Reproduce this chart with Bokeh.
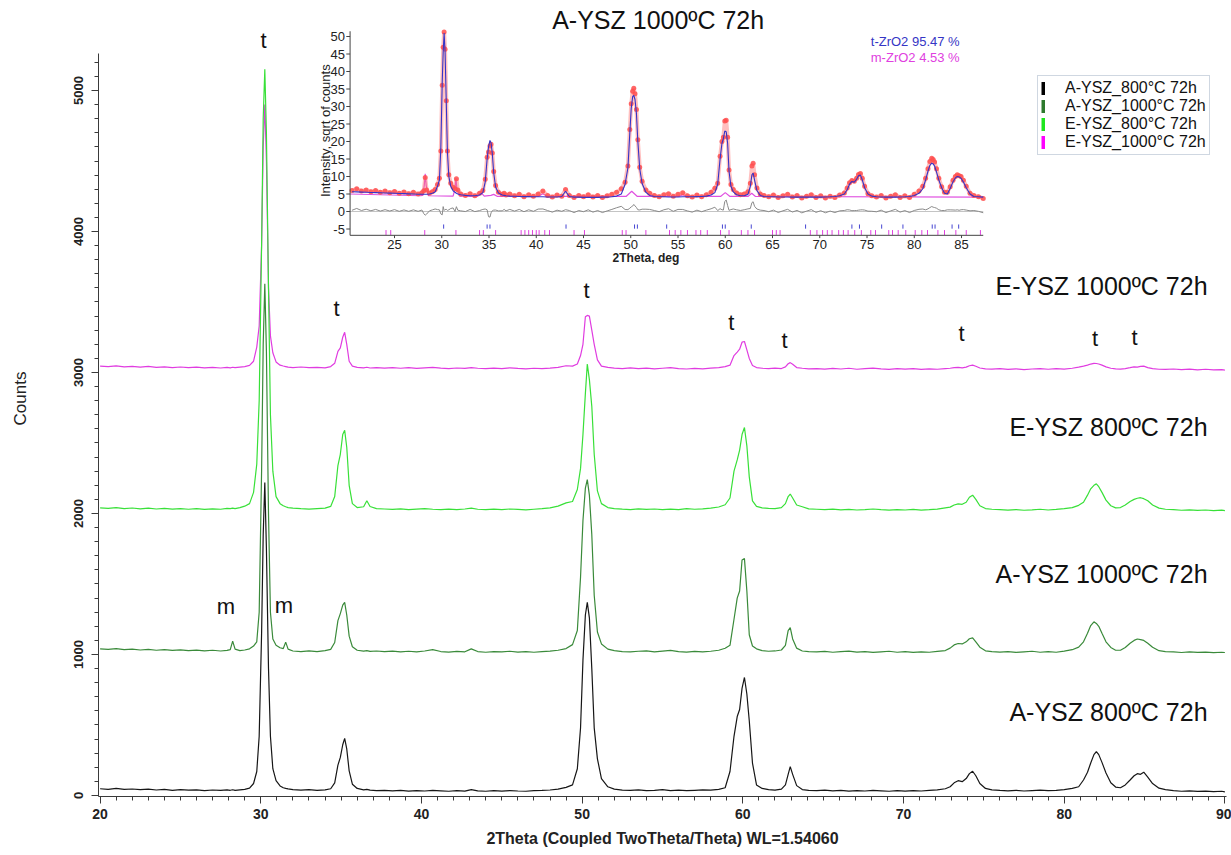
import numpy as np
from bokeh.plotting import figure
from bokeh.models import Range1d, SingleIntervalTicker, FixedTicker, LinearAxis, Legend, LegendItem
from bokeh.core.properties import value
from bokeh.embed import file_html
from bokeh.resources import INLINE

# ---------------- data (2Theta grid shared by the four patterns) ----------------
X = [
    20.0, 20.5, 21.0, 21.5, 22.0, 22.5, 23.0, 23.5, 24.0, 24.5, 25.0, 25.5, 26.0, 26.5, 27.0, 27.5, 27.9,
    28.1, 28.25, 28.4, 28.7, 29.0, 29.3,
    29.55, 29.75, 29.9, 30.05, 30.15, 30.25, 30.35, 30.48, 30.6, 30.75, 30.95, 31.2,
    31.4, 31.55, 31.7, 32.0, 32.5, 33.0, 33.5, 34.0, 34.35,
    34.6, 34.8, 34.95, 35.1, 35.22, 35.35, 35.5, 35.7, 36.0, 36.4, 36.6, 36.8, 37.2,
    37.7, 38.2, 38.7, 39.2, 39.7, 40.2, 40.7, 41.2, 41.7, 42.2, 42.7, 43.1, 43.5, 44.0, 44.5, 45.0, 45.5, 46.0, 46.5, 47.0, 47.5, 48.0, 48.5, 49.0,
    49.4, 49.7, 49.9, 50.05, 50.2, 50.32, 50.45, 50.6, 50.75, 50.95, 51.2, 51.6, 52.0,
    52.5, 53.0, 53.5, 54.0, 54.5, 55.0, 55.5, 56.0, 56.5, 57.0, 57.5, 58.0, 58.5, 58.9,
    59.2, 59.45, 59.65, 59.8, 59.95, 60.1, 60.25, 60.4, 60.6, 60.85, 61.2, 61.6, 62.0, 62.4,
    62.65, 62.82, 62.95, 63.1, 63.35, 63.7, 64.1,
    64.6, 65.1, 65.6, 66.1, 66.6, 67.1, 67.6, 68.1, 68.6, 69.1, 69.6, 70.1, 70.6, 71.1, 71.6, 72.1, 72.6,
    72.9, 73.15, 73.4, 73.65, 73.9, 74.1, 74.3, 74.5, 74.75, 75.1, 75.5,
    76.0, 76.5, 77.0, 77.5, 78.0, 78.5, 79.0, 79.5, 80.0, 80.5, 80.9,
    81.2, 81.45, 81.65, 81.85, 82.0, 82.15, 82.35, 82.6, 82.9, 83.2,
    83.5, 83.8, 84.1, 84.35, 84.55, 84.75, 84.95, 85.2, 85.5, 85.9, 86.3,
    86.8, 87.3, 87.8, 88.3, 88.8, 89.3, 89.8, 90.0,
]

A800 = [
    48, 44, 50, 43, 46, 41, 45, 39, 43, 37, 41, 38, 40, 35, 39, 36, 40,
    37, 41, 36, 40, 44, 52,
    85, 170, 420, 1150, 1850, 2220, 1750, 900, 420, 190, 105, 68,
    55, 50, 47, 42, 38, 41, 37, 40, 48,
    90, 215, 270, 360, 405, 330, 175, 80, 50, 40, 44, 38, 35,
    37, 33, 36, 31, 35, 32, 36, 33, 30, 34, 31, 42, 33, 30, 34, 31, 35, 32, 30, 34, 36, 39, 45, 58,
    75, 190, 480, 960, 1280, 1370, 1260, 900, 480, 260, 120, 62, 45,
    38, 36, 40, 34, 37, 41, 35, 38, 34, 37, 40, 38, 44, 55,
    170, 420, 560, 610, 760, 837, 720, 530, 230, 75, 50, 42, 38, 45,
    75, 150, 205, 150, 70, 42, 36,
    34, 38, 33, 36, 31, 35, 32, 36, 33, 30, 34, 31, 35, 32, 36, 40, 48,
    62, 90, 105, 98, 120, 155, 172, 140, 85, 50, 40,
    36, 33, 37, 32, 35, 38, 34, 37, 42, 50, 62,
    110, 165, 230, 290, 312, 290, 235, 160, 90, 60,
    55, 75, 110, 140, 155, 150, 165, 130, 85, 52, 42,
    35, 30, 33, 29, 31, 27, 30, 26,
]

A1000 = [
    1040, 1036, 1042, 1034, 1038, 1032, 1036, 1030, 1034, 1029, 1033, 1027, 1031, 1026, 1030, 1025, 1029,
    1035, 1095, 1038, 1027, 1032, 1040,
    1060, 1090, 1300, 2300, 3200, 3630, 3150, 2000, 1300, 1110, 1065, 1048,
    1042, 1088, 1038, 1025, 1021, 1026, 1020, 1027, 1036,
    1085, 1240, 1290, 1350, 1370, 1280, 1130, 1055, 1030, 1024, 1027, 1022, 1025,
    1020, 1024, 1018, 1023, 1019, 1025, 1034, 1021, 1017, 1022, 1019, 1040, 1021, 1016, 1021, 1018, 1023, 1017, 1021, 1016, 1020, 1024, 1030, 1042,
    1070, 1170, 1550, 1950, 2180, 2240, 2130, 1850, 1420, 1160, 1075, 1038, 1027,
    1021, 1018, 1023, 1026, 1019, 1024, 1029, 1020, 1017, 1022, 1018, 1023, 1030, 1044,
    1065, 1250, 1400, 1450, 1670, 1680, 1450, 1140, 1060, 1040, 1028, 1023, 1025, 1032,
    1065, 1170, 1190, 1110, 1045, 1025, 1021,
    1018, 1022, 1016, 1020, 1024, 1017, 1021, 1015, 1019, 1023, 1016, 1020, 1015, 1019, 1016, 1022, 1028,
    1045, 1068, 1078, 1075, 1090, 1112, 1118, 1090, 1052, 1026, 1020,
    1017, 1021, 1015, 1019, 1023, 1016, 1020, 1016, 1024, 1034, 1052,
    1090, 1150, 1205, 1232, 1220, 1200, 1150, 1090, 1050, 1030,
    1030, 1050, 1080, 1100, 1110, 1105, 1100, 1080, 1052, 1027, 1021,
    1018, 1014, 1019, 1015, 1017, 1013, 1016, 1014,
]

E800 = [
    2040, 2036, 2042, 2035, 2039, 2033, 2038, 2032, 2036, 2031, 2035, 2030, 2034, 2029, 2033, 2030, 2036,
    2034, 2038, 2035, 2042, 2052, 2070,
    2150, 2350, 2800, 3900, 4800, 5150, 4700, 3600, 2700, 2300, 2120, 2070,
    2055, 2048, 2042, 2038, 2034, 2031, 2035, 2038, 2050,
    2120, 2340, 2420, 2560, 2590, 2470, 2200, 2070, 2042, 2048, 2090, 2050, 2035,
    2032, 2029, 2033, 2028, 2031, 2034, 2030, 2027, 2031, 2028, 2032, 2038, 2030, 2027, 2031, 2028, 2032, 2029, 2026, 2030, 2034, 2040, 2052, 2075,
    2085, 2170, 2320, 2560, 2850, 3060, 2950, 2760, 2420, 2160, 2070, 2042, 2035,
    2031, 2028, 2033, 2029, 2032, 2027, 2031, 2028, 2034, 2030, 2033, 2038, 2046, 2062,
    2110, 2300, 2380, 2450, 2560, 2610, 2480, 2260, 2090, 2050, 2040, 2036, 2034, 2042,
    2070, 2120, 2138, 2110, 2060, 2048, 2033,
    2030, 2027, 2031, 2026, 2029, 2025, 2028, 2032, 2027, 2024, 2028, 2025, 2029, 2024, 2027, 2031, 2040,
    2045, 2060, 2068, 2065, 2080, 2115, 2130, 2100, 2055, 2035, 2030,
    2027, 2024, 2028, 2023, 2026, 2030, 2025, 2029, 2034, 2042, 2058,
    2080, 2130, 2175, 2200, 2210, 2190, 2150, 2095, 2055, 2040,
    2042, 2060, 2085, 2100, 2108, 2112, 2105, 2090, 2060, 2038, 2030,
    2027, 2023, 2026, 2022, 2025, 2021, 2024, 2020,
]

E1000 = [
    3045, 3041, 3047, 3040, 3044, 3038, 3043, 3036, 3040, 3035, 3039, 3034, 3038, 3033, 3037, 3032, 3036,
    3033, 3037, 3034, 3038, 3042, 3050,
    3080, 3180, 3330, 3900, 4600, 4900, 4500, 3600, 3260, 3140, 3075, 3052,
    3046, 3042, 3038, 3035, 3039, 3034, 3037, 3033, 3042,
    3065, 3150, 3175, 3250, 3285, 3200, 3080, 3045, 3036, 3033, 3037, 3032, 3035,
    3031, 3035, 3030, 3034, 3029, 3033, 3037, 3031, 3028, 3032, 3029, 3035, 3030, 3027, 3031, 3028, 3033, 3029, 3026, 3030, 3027, 3031, 3036, 3048,
    3045, 3060, 3120, 3200, 3395, 3405, 3400, 3300, 3200, 3090, 3045, 3036, 3031,
    3028, 3033, 3027, 3031, 3026, 3030, 3034, 3028, 3025, 3029, 3026, 3031, 3035, 3042,
    3052, 3120, 3145, 3165, 3215, 3220, 3160, 3100, 3050, 3035, 3030, 3027, 3031, 3028,
    3040, 3062, 3070, 3058, 3035, 3030, 3026,
    3028, 3024, 3029, 3025, 3030, 3023, 3027, 3031, 3026, 3022, 3027, 3024, 3028, 3022, 3026, 3023, 3028,
    3030, 3034, 3036, 3033, 3038, 3048, 3052, 3044, 3032, 3026, 3024,
    3027, 3022, 3026, 3021, 3025, 3028, 3023, 3027, 3024, 3030, 3038,
    3045, 3052, 3060, 3065, 3064, 3060, 3052, 3040, 3030, 3026,
    3024, 3028, 3034, 3040, 3038, 3044, 3045, 3035, 3027, 3023, 3022,
    3025, 3020, 3024, 3019, 3023, 3018, 3021, 3017,
]

# Rietveld calculated t-ZrO2 profile of A-YSZ 1000 (sqrt of counts), on the same grid
CALC = [
    5.7, 5.65, 5.6, 5.55, 5.5, 5.45, 5.4, 5.35, 5.3, 5.25, 5.2, 5.15, 5.1, 5.05, 5.0, 4.95, 4.95,
    4.95, 4.95, 4.95, 5.0, 5.2, 5.6,
    7.2, 9.0, 18.0, 37.0, 45.5, 51.0, 45.8, 31.0, 17.0, 10.0, 7.2, 5.9,
    5.5, 5.2, 5.0, 4.8, 4.6, 4.5, 4.5, 4.7, 5.4,
    8.5, 15.0, 18.5, 20.3, 19.6, 16.5, 11.0, 7.0, 5.3, 4.7, 4.6, 4.5, 4.4,
    4.35, 4.3, 4.25, 4.25, 4.2, 4.2, 4.2, 4.15, 4.15, 4.15, 4.3, 5.8, 4.3, 4.1, 4.1, 4.05, 4.05, 4.05, 4.05, 4.1, 4.1, 4.2, 4.4, 5.0,
    7.8, 12.5, 22.5, 29.5, 32.8, 33.2, 32.0, 28.0, 20.0, 12.2, 8.0, 5.5, 4.6,
    4.3, 4.2, 4.2, 4.15, 4.15, 4.15, 4.2, 4.2, 4.2, 4.25, 4.3, 4.4, 4.7, 5.4,
    7.8, 15.0, 19.5, 20.8, 23.0, 22.8, 19.5, 11.5, 7.2, 5.6, 4.8, 4.5, 4.5, 4.9,
    7.2, 10.5, 11.0, 9.0, 6.0, 4.6, 4.3,
    4.2, 4.2, 4.15, 4.15, 4.15, 4.1, 4.1, 4.1, 4.1, 4.1, 4.1, 4.1, 4.15, 4.2, 4.3, 4.5, 5.0,
    6.2, 7.8, 8.6, 8.4, 9.2, 10.2, 10.4, 9.0, 6.8, 5.0, 4.4,
    4.2, 4.15, 4.1, 4.1, 4.1, 4.15, 4.2, 4.3, 4.6, 5.2, 6.5,
    9.0, 11.5, 13.2, 13.8, 13.6, 13.0, 11.3, 9.0, 6.8, 5.2,
    5.0, 6.6, 8.5, 9.6, 10.0, 9.9, 9.5, 8.4, 6.8, 5.0, 4.3,
    4.2, 4.1, 4.1, 4.05, 4.05, 4.0, 4.0, 4.0,
]

# m-ZrO2 phase contribution (sqrt of counts)
M_X = [20.3, 27.7, 28.0, 28.15, 28.25, 28.35, 28.6, 31.2, 31.4, 31.5, 31.6, 31.9, 33.8, 34.15, 34.5,
       35.2, 35.5, 35.9, 40.2, 40.7, 41.2, 49.5, 50.1, 50.7, 55.1, 55.5, 55.9, 59.5, 60.0, 60.5,
       62.4, 62.8, 63.2, 87.3]
M_Y = [5.0, 4.5, 4.6, 7.5, 10.8, 7.5, 4.5, 4.4, 6.5, 9.5, 6.5, 4.4, 4.3, 5.4, 4.4,
       4.6, 4.9, 4.3, 4.3, 5.1, 4.3, 4.3, 5.8, 4.3, 4.3, 4.8, 4.3, 4.3, 5.4, 4.3,
       4.3, 5.2, 4.3, 4.1]

# reflection markers
T_TICKS = [30.2, 34.8, 35.1, 43.15, 50.4, 50.7, 53.8, 59.7, 60.0, 62.75, 68.5, 73.4, 74.2, 76.55,
           78.8, 81.9, 82.2, 84.0, 84.7]
M_TICKS = [24.1, 24.6, 28.2, 31.5, 34.0, 34.4, 35.7, 38.4, 38.8, 39.2, 39.6, 40.0, 40.3, 40.9, 41.4,
           44.0, 45.1, 49.1, 49.5, 51.6, 54.1, 54.7, 55.3, 56.0, 56.9, 57.4, 58.1, 59.5, 60.4, 61.7,
           62.4, 63.1, 65.0, 65.4, 65.8, 69.0, 69.7, 70.3, 70.8, 71.3, 72.0, 72.5, 73.0, 73.7, 74.4,
           75.4, 75.9, 77.3, 77.7, 78.3, 79.1, 80.1, 80.8, 81.4, 82.5, 83.2, 84.4, 85.5, 87.0]

LEGEND_LABELS = ["A-YSZ_800°C 72h", "A-YSZ_1000°C 72h", "E-YSZ_800°C 72h", "E-YSZ_1000°C 72h"]
CURVE_LABELS = ["A-YSZ 800ºC 72h", "A-YSZ 1000ºC 72h", "E-YSZ 800ºC 72h", "E-YSZ 1000ºC 72h"]
LINE_COLORS = ["#161616", "#3a8a3a", "#38e038", "#e03ce0"]
LEG_COLORS = ["#000000", "#2e7a2e", "#1ee61e", "#ff00ff"]
SERIES = [A800, A1000, E800, E1000]

IY_TICKS = [-5, 0, 5, 10, 15, 20, 25, 30, 35, 40, 45, 50]
IX_TICKS = [25, 30, 35, 40, 45, 50, 55, 60, 65, 70, 75, 80, 85]

for arr in SERIES + [CALC]:
    if len(arr) != len(X):
        raise ValueError("length mismatch %d vs %d" % (len(arr), len(X)))

SANS = "Liberation Sans"

# ---------------- figure ----------------
p = figure(width=1231, height=855, x_range=Range1d(19.9, 90.1), y_range=Range1d(-7.1, 5638.3),
           output_backend="svg", toolbar_location=None,
           min_border_left=98, min_border_right=5, min_border_top=0, min_border_bottom=59)
p.extra_x_ranges = {"ix": Range1d(-6.323, 113.04)}
p.extra_y_ranges = {"iy": Range1d(-167.14, 60.29)}
p.xgrid.visible = False
p.ygrid.visible = False
p.outline_line_color = None
p.background_fill_color = "white"
p.border_fill_color = "white"

AX = "#3a3a3a"
xa = p.xaxis[0]
xa.ticker = SingleIntervalTicker(interval=10, num_minor_ticks=10)
xa.major_label_text_font = SANS
xa.major_label_text_font_size = "14px"
xa.major_label_text_font_style = "bold"
xa.major_label_text_color = "#222222"
xa.major_label_standoff = 5
xa.major_tick_in = 0
xa.major_tick_out = 7
xa.minor_tick_in = 0
xa.minor_tick_out = 4
xa.axis_line_color = AX
xa.major_tick_line_color = AX
xa.minor_tick_line_color = AX

# second (label-only) bottom axis so the title sits where the original has it
xa2 = LinearAxis(ticker=FixedTicker(ticks=[]), bounds=(21.76, 90.1),
                 axis_label="2Theta (Coupled TwoTheta/Theta) WL=1.54060",
                 axis_line_color=None, major_tick_line_color=None, minor_tick_line_color=None,
                 major_tick_out=0, major_tick_in=0, minor_tick_out=0, minor_tick_in=0,
                 major_label_standoff=0, axis_label_standoff=8,
                 axis_label_text_font=SANS, axis_label_text_font_size="16px",
                 axis_label_text_font_style="bold", axis_label_text_color="#222222")
p.add_layout(xa2, "below")

ya = p.yaxis[0]
ya.ticker = SingleIntervalTicker(interval=1000, num_minor_ticks=10)
ya.bounds = (-7.1, 5265)
ya.axis_label = "Counts"
ya.axis_label_text_font = SANS
ya.axis_label_text_font_size = "17px"
ya.axis_label_text_font_style = "normal"
ya.axis_label_text_color = "#222222"
ya.axis_label_standoff = 42
ya.major_label_orientation = "vertical"
ya.major_label_text_font = SANS
ya.major_label_text_font_size = "13px"
ya.major_label_text_font_style = "bold"
ya.major_label_text_color = "#222222"
ya.major_label_standoff = 8
ya.major_tick_in = 0
ya.major_tick_out = 7
ya.minor_tick_in = 0
ya.minor_tick_out = 4
ya.axis_line_color = AX
ya.major_tick_line_color = AX
ya.minor_tick_line_color = AX

# ---------------- main patterns ----------------
for ys, col in reversed(list(zip(SERIES, LINE_COLORS))):
    p.line(X, ys, line_color=col, line_width=1.2)

# peak labels
T_LAB_X = [30.17, 34.71, 50.27, 59.28, 62.59, 73.61, 81.92, 84.38]
T_LAB_Y = [5355, 3454, 3582, 3355, 3227, 3277, 3241, 3248]
M_LAB_X = [27.83, 31.44]
M_LAB_Y = [1340, 1348]
p.text(x=T_LAB_X, y=T_LAB_Y, text=["t"] * len(T_LAB_X), text_align="center", text_baseline="middle",
       text_font=value(SANS), text_font_size="22px", text_color="#111111")
p.text(x=M_LAB_X, y=M_LAB_Y, text=["m"] * len(M_LAB_X), text_align="center", text_baseline="middle",
       text_font=value(SANS), text_font_size="22px", text_color="#111111")

# sample labels
LAB_Y = [591, 1572, 2612, 3617]
p.text(x=[88.92] * 4, y=LAB_Y, text=CURVE_LABELS, text_align="right", text_baseline="middle",
       text_font=value(SANS), text_font_size="25px", text_color="#111111")

# ---------------- inset (Rietveld refinement) ----------------
kw = dict(x_range_name="ix", y_range_name="iy")
IX0, IX1, IY0, IY1 = 20.3, 87.3, -6.8, 51.5
sel = [i for i, x in enumerate(X) if IX0 <= x <= IX1]
ins_x = [X[i] for i in sel]
obs = [float(np.sqrt(max(A1000[i] - 1000.0, 0.0))) for i in sel]
calc = [CALC[i] for i in sel]
m_at = np.interp(ins_x, M_X, M_Y)
total = [max(c, m) for c, m in zip(calc, m_at)]
diff = [o - t for o, t in zip(obs, total)]

p.line([IX0, IX1], [0, 0], line_color="#b5b5b5", line_width=0.8, **kw)
p.line(ins_x, diff, line_color="#8a8a8a", line_width=1.0, **kw)
p.line(M_X, M_Y, line_color="#e050e0", line_width=1.2, **kw)
p.line(ins_x, obs, line_color="#ff7070", line_width=4, line_alpha=0.45, **kw)
p.scatter(ins_x, obs, size=5, fill_color="#ff4f4f", line_color=None, fill_alpha=0.85, **kw)
p.line(ins_x, calc, line_color="#3434c8", line_width=1.1, **kw)

p.segment(x0=T_TICKS, y0=[-3.7] * len(T_TICKS), x1=T_TICKS, y1=[-4.9] * len(T_TICKS),
          line_color="#4646d2", line_width=1, **kw)
p.segment(x0=M_TICKS, y0=[-5.3] * len(M_TICKS), x1=M_TICKS, y1=[-6.7] * len(M_TICKS),
          line_color="#e040e0", line_width=1, **kw)

# inset axes
p.segment(x0=[IX0, IX0], y0=[IY0, IY0], x1=[IX0, IX1], y1=[IY1, IY0], line_color="#444444", line_width=1, **kw)
p.segment(x0=[IX0] * len(IY_TICKS), y0=IY_TICKS, x1=[IX0 - 0.4] * len(IY_TICKS), y1=IY_TICKS,
          line_color="#444444", line_width=1, **kw)
p.text(x=[IX0 - 0.55] * len(IY_TICKS), y=IY_TICKS, text=[str(v) for v in IY_TICKS],
       text_align="right", text_baseline="middle", text_font=value(SANS), text_font_size="13px",
       text_color="#222222", **kw)
p.segment(x0=IX_TICKS, y0=[IY0] * len(IX_TICKS), x1=IX_TICKS, y1=[IY0 - 0.8] * len(IX_TICKS),
          line_color="#444444", line_width=1, **kw)
p.text(x=IX_TICKS, y=[-9.3] * len(IX_TICKS), text=[str(v) for v in IX_TICKS],
       text_align="center", text_baseline="middle", text_font=value(SANS), text_font_size="13px",
       text_color="#222222", **kw)
p.text(x=[51.6], y=[-13.4], text=["2Theta, deg"], text_align="center", text_baseline="middle",
       text_font=value(SANS), text_font_size="12px", text_font_style="bold", text_color="#222222", **kw)
p.text(x=[17.7], y=[23.1], text=["Intensity, sqrt of counts"], angle=np.pi / 2,
       text_align="center", text_baseline="middle", text_font=value(SANS), text_font_size="13px",
       text_color="#222222", **kw)
p.text(x=[52.9], y=[54.6], text=["A-YSZ 1000ºC 72h"], text_align="center", text_baseline="middle",
       text_font=value(SANS), text_font_size="25px", text_color="#111111", **kw)
p.text(x=[75.4], y=[48.5], text=["t-ZrO2   95.47 %"], text_align="left", text_baseline="middle",
       text_font=value(SANS), text_font_size="13px", text_color="#3535c5", **kw)
p.text(x=[75.4], y=[43.9], text=["m-ZrO2 4.53 %"], text_align="left", text_baseline="middle",
       text_font=value(SANS), text_font_size="13px", text_color="#e040e0", **kw)

# ---------------- legend ----------------
items = []
for lab, col in zip(LEGEND_LABELS, LEG_COLORS):
    r = p.line(x=[-50, -49], y=[-5000, -5000], line_color=col, line_width=13)
    items.append(LegendItem(label=lab, renderers=[r]))
leg = Legend(items=items, location=(939, 641), orientation="vertical",
             glyph_width=4, glyph_height=14, label_height=14, spacing=0, padding=3, margin=0,
             label_standoff=20, label_text_font=SANS, label_text_font_size="16px",
             label_text_color="#111111", border_line_color="#9fb0c4", border_line_width=1,
             background_fill_color="white", background_fill_alpha=1.0)
p.add_layout(leg)

open("out.html", "w").write(file_html(p, INLINE))
